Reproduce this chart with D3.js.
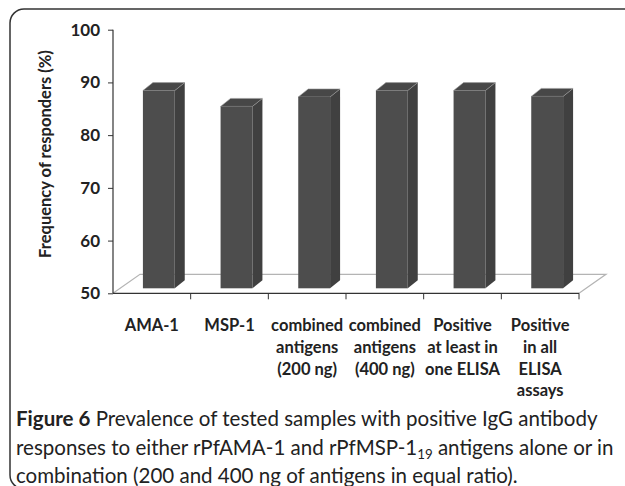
<!DOCTYPE html>
<html>
<head>
<meta charset="utf-8">
<script src="https://cdn.jsdelivr.net/npm/d3@7"></script>
<style>
body{margin:0;background:#fff;}
svg{display:block;}
</style>
</head>
<body>
<div id="chart"></div>
<script>
////////////////////////////////////////
// data
////////////////////////////////////////

var categories = ['AMA-1','MSP-1','combined200','combined400','atLeastOne','allAssays'];
var catLabels = [
	['AMA-1'],
	['MSP-1'],
	['combined','antigens','(200 ng)'],
	['combined','antigens','(400 ng)'],
	['Positive','at least in','one ELISA'],
	['Positive','in all','ELISA','assays']
];
var values = [87.5, 84.5, 86.3, 87.5, 87.5, 86.4];
var yTicks = [50,60,70,80,90,100];

////////////////////////////////////////
// setup
////////////////////////////////////////

var W = 625, H = 486;
var axisFont = 'Lato, sans-serif';

var svg = d3.select('#chart').append('svg')
	.attr('width',W)
	.attr('height',H);

// rounded frame, open on the right and at the bottom
svg.append('rect')
	.attr('x',10)
	.attr('y',9)
	.attr('width',700)
	.attr('height',480)
	.attr('rx',14)
	.attr('fill','none')
	.attr('stroke','#333')
	.attr('stroke-width',1.5);

var x = d3.scaleBand()
	.domain(categories)
	.range([113,579]);

var y = d3.scaleLinear()
	.domain([50,100])
	.range([293.3,29.7]);

// floor depth (back edge offset) and bar depth
var floorDx = 27, floorDy = -19;
var barShiftX = 7, barShiftY = -5;
var depthDx = 10, depthDy = -8;
var barW = x.bandwidth()*0.41;

// shrink/grow a text's font so it spans the given width
function fitText(sel,width){
	var fs = +sel.attr('font-size');
	var len = sel.node().getComputedTextLength();
	sel.attr('font-size',fs*width/len);
}

////////////////////////////////////////
// floor
////////////////////////////////////////

var x0 = x.range()[0], x1 = x.range()[1], y0 = y(50);
svg.append('path')
	.attr('d','M'+x0+','+y0+'L'+(x0+floorDx)+','+(y0+floorDy)+
		'L'+(x1+floorDx)+','+(y0+floorDy)+'L'+x1+','+y0)
	.attr('fill','none')
	.attr('stroke','#b4b4b4')
	.attr('stroke-width',1.2);

////////////////////////////////////////
// bars
////////////////////////////////////////

var bars = svg.selectAll('.bar')
	.data(values)
	.enter().append('g')
	.attr('class','bar');

function barLeft(d,i){ return x(categories[i])+x.bandwidth()/2-barW/2+barShiftX; }
function barTop(d){ return y(d)+barShiftY; }
var barBottom = y(50)+barShiftY;

bars.append('path')
	.attr('d',function(d,i){
		var l = barLeft(d,i), r = l+barW, t = barTop(d);
		return 'M'+r+','+t+'L'+(r+depthDx)+','+(t+depthDy)+
			'L'+(r+depthDx)+','+(barBottom+depthDy)+'L'+r+','+barBottom+'Z';
	})
	.attr('fill','#404040');

bars.append('path')
	.attr('d',function(d,i){
		var l = barLeft(d,i), r = l+barW, t = barTop(d);
		return 'M'+l+','+t+'L'+(l+depthDx)+','+(t+depthDy)+
			'L'+(r+depthDx)+','+(t+depthDy)+'L'+r+','+t+'Z';
	})
	.attr('fill','#474747')
	.attr('stroke','#9a9a9a')
	.attr('stroke-width',0.6);

bars.append('rect')
	.attr('x',barLeft)
	.attr('y',barTop)
	.attr('width',barW)
	.attr('height',function(d){ return barBottom-barTop(d); })
	.attr('fill','#4d4d4d');

////////////////////////////////////////
// axes
////////////////////////////////////////

var yAxis = svg.append('g')
	.attr('transform','translate('+x0+',0)')
	.call(d3.axisLeft(y).tickValues(yTicks).tickSize(5).tickPadding(8));

var xAxis = svg.append('g')
	.attr('transform','translate(0,'+y0+')')
	.call(d3.axisBottom(x).tickSize(6).tickFormat(''));

// ticks on the band edges instead of centres
xAxis.selectAll('.tick').remove();
var edges = categories.map(function(c){ return x(c)+x.bandwidth(); });
xAxis.selectAll('.edge')
	.data(edges)
	.enter().append('line')
	.attr('x1',function(d){ return d; })
	.attr('x2',function(d){ return d; })
	.attr('y1',0)
	.attr('y2',6)
	.attr('stroke','#333');

[yAxis,xAxis].forEach(function(a){
	a.select('.domain').attr('stroke','#333').attr('stroke-width',1.2);
	a.selectAll('line').attr('stroke','#333');
});
yAxis.select('.domain').attr('d','M0,'+y(100)+'V'+y(50));
xAxis.select('.domain').attr('d','M'+x0+',0H'+x1);

yAxis.selectAll('text')
	.attr('font-family',axisFont)
	.attr('font-weight','bold')
	.attr('font-size',17)
	.attr('fill','#222');

// category labels
var labels = svg.selectAll('.cat')
	.data(catLabels)
	.enter().append('text')
	.attr('class','cat')
	.attr('text-anchor','middle')
	.attr('font-family',axisFont)
	.attr('font-weight','bold')
	.attr('font-size',16.5)
	.attr('fill','#222');

labels.selectAll('tspan')
	.data(function(d,i){ return d.map(function(s){ return {s:s,i:i}; }); })
	.enter().append('tspan')
	.attr('x',function(d){ return x(categories[d.i])+x.bandwidth()/2; })
	.attr('y',function(d,j){ return 331+j*21.8; })
	.text(function(d){ return d.s; });

// y title
var yTitle = svg.append('text')
	.attr('transform','translate(51,154) rotate(-90)')
	.attr('text-anchor','middle')
	.attr('font-family',axisFont)
	.attr('font-weight','bold')
	.attr('font-size',17)
	.attr('fill','#222')
	.text('Frequency of responders (%)');
fitText(yTitle,208);

////////////////////////////////////////
// caption
////////////////////////////////////////

var capFont = 'Lato, sans-serif';
var cap = svg.append('g')
	.attr('font-family',capFont)
	.attr('font-size',20)
	.attr('fill','#222');

var l1 = cap.append('text').attr('x',16).attr('y',426);
l1.append('tspan').attr('font-weight','bold').text('Figure 6');
l1.append('tspan').text(' Prevalence of tested samples with positive IgG antibody');

// scale the caption block so the first line spans like the original
var capLen = l1.node().getComputedTextLength();
var capFs = 20*582/capLen;
cap.attr('font-size',capFs);

var l2 = cap.append('text').attr('x',16).attr('y',455);
l2.append('tspan').text('responses to either rPfAMA-1 and rPfMSP-1');
l2.append('tspan').attr('font-size',capFs*0.65).attr('dy',4).text('19');
l2.append('tspan').attr('dy',-4).text(' antigens alone or in');

cap.append('text').attr('x',16).attr('y',483)
	.text('combination (200 and 400 ng of antigens in equal ratio).');
</script>
</body>
</html>
